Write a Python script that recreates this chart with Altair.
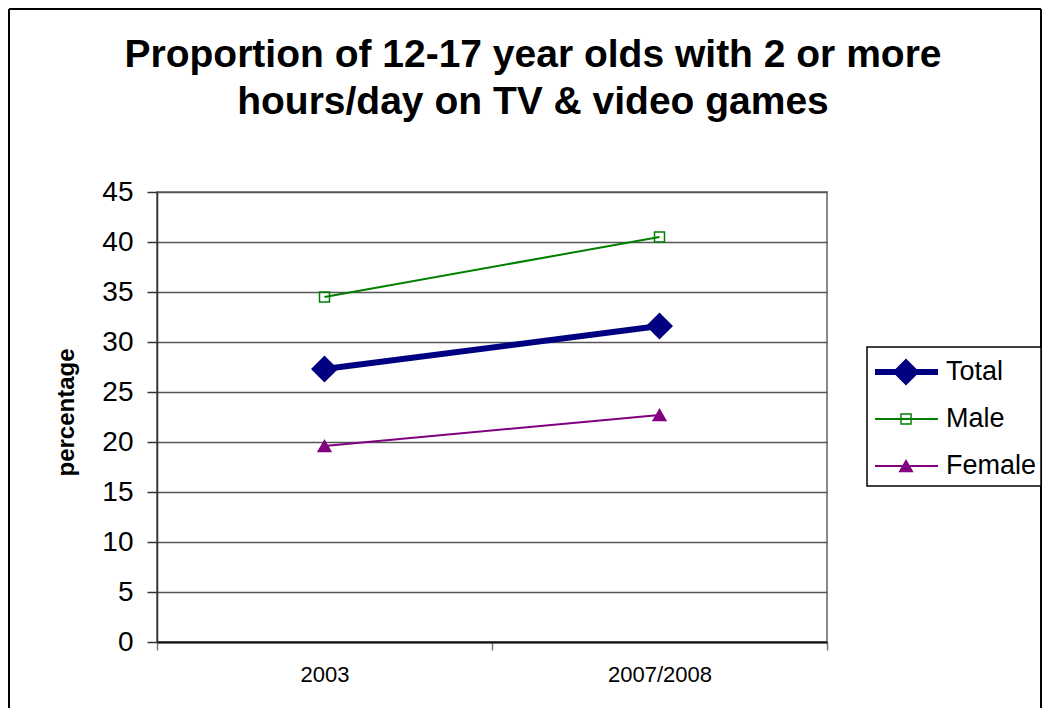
import altair as alt
import pandas as pd

# ---- data ----
categories = ["2003", "2007/2008"]
series = ["Total", "Male", "Female"]
total_vals = [27.3, 31.6]
male_vals = [34.5, 40.5]
female_vals = [19.6, 22.7]
y_ticks = [0, 5, 10, 15, 20, 25, 30, 35, 40, 45]
title_lines = ["Proportion of 12-17 year olds with 2 or more",
               "hours/day on TV & video games"]
y_title = "percentage"

colors = ["#000080", "#008000", "#800080"]
fills = ["#000080", "transparent", "#800080"]
shapes = ["diamond", "square", "triangle-up"]
sizes = [620, 100, 160]
widths = [6, 2, 2]

rows = []
for s, vals in zip(series, [total_vals, male_vals, female_vals]):
    for i, (c, v) in enumerate(zip(categories, vals)):
        rows.append({"series": s, "category": c, "xi": i + 0.5, "value": v})
df = pd.DataFrame(rows)
leg_df = pd.DataFrame({"series": series, "li": list(range(len(series)))})

FONT = "Liberation Sans"
W, H = 670, 450

color_scale = alt.Scale(domain=series, range=colors)
fill_scale = alt.Scale(domain=series, range=fills)
shape_scale = alt.Scale(domain=series, range=shapes)
size_scale = alt.Scale(type="ordinal", domain=series, range=sizes)
width_scale = alt.Scale(type="ordinal", domain=series, range=widths)

label_expr = " : ".join(
    [f"datum.value == {i} ? '{c}'" for i, c in enumerate(categories)]) + " : ''"

x_enc = alt.X(
    "xi:Q",
    scale=alt.Scale(domain=[0, len(categories)], nice=False, zero=False),
    axis=alt.Axis(
        values=list(range(len(categories) + 1)),
        labelExpr=label_expr,
        labelOffset=W / len(categories) / 2,
        labelFlush=False,
        labelOverlap=False,
        labelBound=False,
        grid=False,
        title=None,
        tickSize=8,
        tickColor="#777",
        tickWidth=1.5,
        labelPadding=14,
        labelFontSize=22,
        labelColor="#000",
        domainColor="#111",
        domainWidth=2,
    ),
)
y_enc = alt.Y(
    "value:Q",
    scale=alt.Scale(domain=[0, 45], nice=False, zero=True),
    axis=alt.Axis(
        values=y_ticks,
        title=y_title,
        titleFontSize=24,
        titleFontWeight="bold",
        titleColor="#000",
        titleAngle=270,
        titleX=-91,
        titleY=220,
        titleAlign="center",
        titleBaseline="middle",
        labelFontSize=28,
        labelColor="#000",
        labelPadding=14,
        tickSize=10,
        tickColor="#333",
        tickWidth=1.5,
        domainColor="#333",
        domainWidth=1.5,
        grid=True,
        gridColor="#555",
        gridWidth=1.5,
    ),
)

base = alt.Chart(df)
lines = base.mark_line().encode(
    x=x_enc, y=y_enc,
    color=alt.Color("series:N", scale=color_scale, legend=None),
    strokeWidth=alt.StrokeWidth("series:N", scale=width_scale, legend=None),
    detail="series:N",
)
points = base.mark_point(opacity=1, strokeWidth=1.5).encode(
    x=alt.X("xi:Q"), y=alt.Y("value:Q"),
    stroke=alt.Stroke("series:N", scale=color_scale, legend=None),
    fill=alt.Fill("series:N", scale=fill_scale, legend=None),
    shape=alt.Shape("series:N", scale=shape_scale, legend=None),
    size=alt.Size("series:N", scale=size_scale, legend=None),
)
main = alt.layer(lines, points)

# ---- custom legend (line + marker), placed to the right of the plot ----
leg_y = alt.Y("li:Q", scale=alt.Scale(domain=[0, len(series) - 1], range=[180, 274],
                                        nice=False, zero=False), axis=None)
one = alt.Data(values=[{}])
leg_box = alt.Chart(one).mark_rect(fill="white", stroke="#000", strokeWidth=1.5).encode(
    x=alt.value(710), x2=alt.value(884), y=alt.value(155), y2=alt.value(294))
leg_base = alt.Chart(leg_df)
leg_rules = leg_base.mark_rule().encode(
    x=alt.value(718), x2=alt.value(781), y=leg_y,
    color=alt.Color("series:N", scale=color_scale, legend=None),
    strokeWidth=alt.StrokeWidth("series:N", scale=width_scale, legend=None),
)
leg_pts = leg_base.mark_point(opacity=1, strokeWidth=1.5).encode(
    x=alt.value(749), y=leg_y,
    stroke=alt.Stroke("series:N", scale=color_scale, legend=None),
    fill=alt.Fill("series:N", scale=fill_scale, legend=None),
    shape=alt.Shape("series:N", scale=shape_scale, legend=None),
    size=alt.Size("series:N", scale=size_scale, legend=None),
)
leg_txt = leg_base.mark_text(align="left", baseline="middle", fontSize=27,
                             color="#000").encode(
    x=alt.value(789), y=leg_y, text="series:N")
legend = alt.layer(leg_rules, leg_pts, leg_txt)

# ---- outer frame (left, top, right) and title ----
frame_l = alt.Chart(one).mark_rule(color="#000", strokeWidth=2).encode(
    x=alt.value(-148), y=alt.value(-183), y2=alt.value(516))
frame_t = alt.Chart(one).mark_rule(color="#000", strokeWidth=2).encode(
    x=alt.value(-148), x2=alt.value(884), y=alt.value(-183))
frame_r = alt.Chart(one).mark_rule(color="#000", strokeWidth=2).encode(
    x=alt.value(884), y=alt.value(-183), y2=alt.value(516))
title = alt.Chart(one).mark_text(fontSize=39, fontWeight="bold", lineHeight=47,
                                 align="center", baseline="middle", color="#000").encode(
    x=alt.value(376), y=alt.value(-137), text=alt.value(title_lines))

chart = alt.layer(
    frame_l, frame_t, frame_r, title, leg_box, main, legend
).resolve_scale(y="independent").properties(
    width=W, height=H,
    autosize=alt.AutoSizeParams(type="none"),
    padding={"left": 149, "top": 184, "right": 215, "bottom": 66},
).configure(
    font=FONT,
    background="white",
).configure_view(
    stroke="#888", strokeWidth=2,
)

chart.save("out.html", embed_options={"renderer": "svg", "actions": False})
